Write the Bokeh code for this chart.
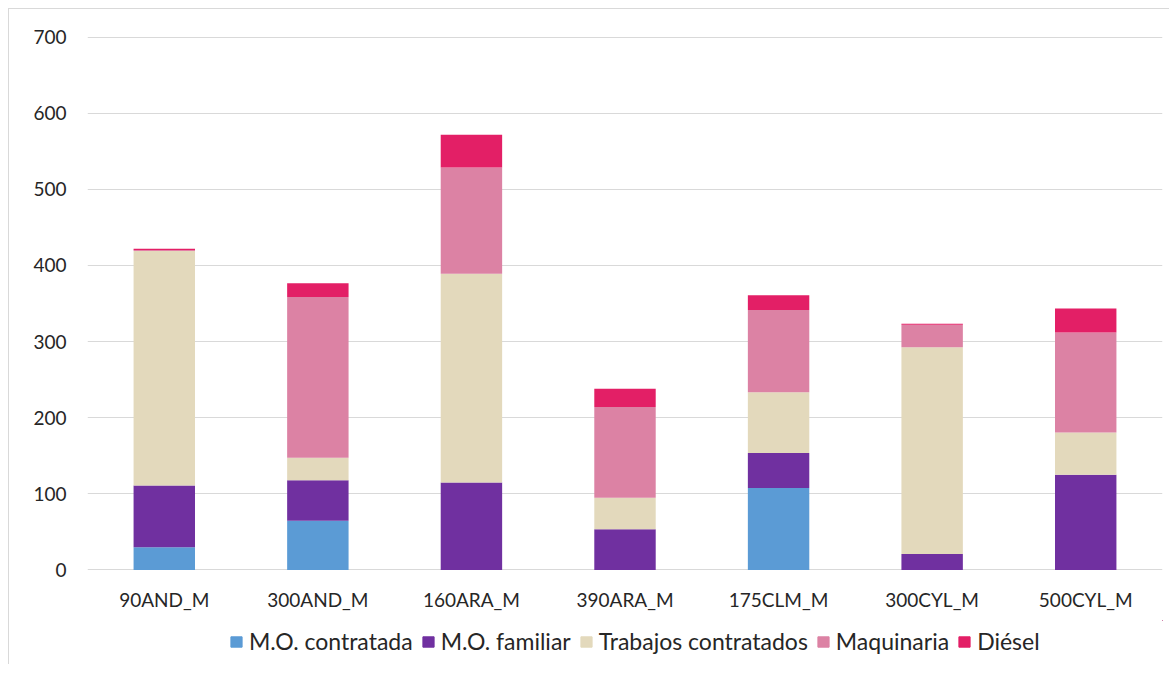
from bokeh.plotting import figure
from bokeh.layouts import column
from bokeh.models import FactorRange, Range1d, FixedTicker, Legend, LegendItem, ColumnDataSource
from bokeh.embed import file_html
from bokeh.resources import INLINE

categories = ["90AND_M", "300AND_M", "160ARA_M", "390ARA_M", "175CLM_M", "300CYL_M", "500CYL_M"]
mo_contratada = [30, 64.5, 0, 0, 107.5, 0, 0]
mo_familiar = [81, 53.5, 115, 53.5, 46, 21, 125]
trabajos_contratados = [308, 29.5, 274, 41.5, 80, 271.5, 55.5]
maquinaria = [1, 211, 139.5, 119, 108, 29.5, 131.5]
diesel = [2, 18, 43, 24, 19.5, 1.5, 31.5]

series_names = ["M.O. contratada", "M.O. familiar", "Trabajos contratados", "Maquinaria", "Diésel"]
series_keys = ["mo_contratada", "mo_familiar", "trabajos", "maquinaria", "diesel"]
colors = ["#5B9BD5", "#7030A0", "#E3D9BC", "#DC82A4", "#E31F66"]
y_ticks = [0, 100, 200, 300, 400, 500, 600, 700]

source = ColumnDataSource(data=dict(
    cat=categories,
    mo_contratada=mo_contratada,
    mo_familiar=mo_familiar,
    trabajos=trabajos_contratados,
    maquinaria=maquinaria,
    diesel=diesel,
))

FONT = "Lato"
TXT = "#262626"

p = figure(
    x_range=FactorRange(factors=categories, range_padding=0),
    y_range=Range1d(-0.7, 700.7),
    width=1160, height=611,
    output_backend="svg", toolbar_location=None,
    min_border_left=78, min_border_right=7, min_border_top=27, min_border_bottom=50,
    border_fill_color="white", background_fill_color="white",
)
p.outline_line_color = None
p.xaxis.visible = True

renderers = p.vbar_stack(series_keys, x="cat", width=0.4, color=colors, source=source, line_color=None)

p.xgrid.visible = False
p.ygrid.grid_line_color = "#d9d9d9"
p.ygrid.grid_line_width = 1
p.yaxis.ticker = FixedTicker(ticks=y_ticks)

for ax in (p.xaxis, p.yaxis):
    ax.axis_line_color = None
    ax.major_tick_line_color = None
    ax.minor_tick_line_color = None
    ax.major_tick_out = 0
    ax.major_tick_in = 0
    ax.major_label_text_font = FONT
    ax.major_label_text_font_size = "19px"
    ax.major_label_text_color = TXT
p.yaxis.major_label_standoff = 21
p.xaxis.major_label_standoff = 17

# legend strip: a second figure holding only the legend (swatches reuse the series colours)
lg = figure(
    x_range=Range1d(0, 1), y_range=Range1d(0, 1),
    width=1160, height=44,
    output_backend="svg", toolbar_location=None,
    min_border_left=0, min_border_right=0, min_border_top=0, min_border_bottom=0,
    border_fill_color="white", background_fill_color="white",
)
lg.axis.visible = False
lg.grid.visible = False
lg.outline_line_color = None
lg_renderers = []
for c, key in zip(colors, series_keys):
    src = ColumnDataSource(data=dict(x=[5], top=[5], bottom=[5]))  # outside the visible range: swatch only
    lg_renderers.append(lg.vbar(x="x", top="top", bottom="bottom", width=0.1, color=c, source=src))

items = [LegendItem(label=n, renderers=[r]) for n, r in zip(series_names, lg_renderers)]
legend = Legend(items=items, orientation="horizontal", location=(142, 9))
legend.label_text_font = FONT
legend.label_text_font_size = "23px"
legend.label_text_color = TXT
legend.label_height = 26
legend.glyph_width = 14
legend.glyph_height = 13
legend.label_standoff = 6
legend.spacing = 8
legend.padding = 0
legend.margin = 0
legend.border_line_color = None
legend.background_fill_alpha = 0
lg.add_layout(legend, "center")

layout = column(p, lg, spacing=0)
layout.styles = {"margin-left": "8px", "margin-top": "8px",
                 "border-top": "1px solid #d9d9d9", "border-left": "1px solid #d9d9d9"}

open("out.html", "w").write(file_html(layout, INLINE))
